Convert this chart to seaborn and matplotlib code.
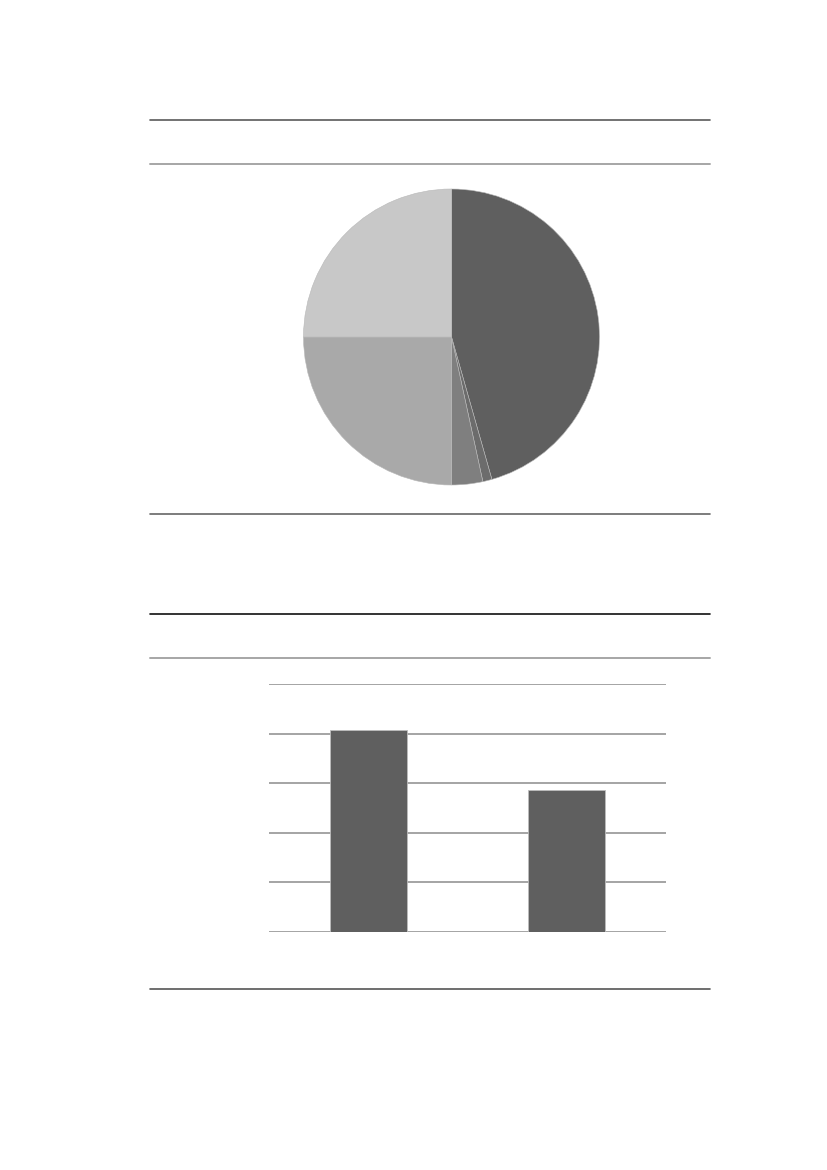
import matplotlib
matplotlib.use("Agg")
import matplotlib.pyplot as plt
import seaborn as sns
import pandas as pd

# pie slices, clockwise from 12 o'clock (shares in %)
pie_labels = ["A", "B", "C", "D", "E"]
pie_values = [45.6, 1.0, 3.4, 25.0, 25.0]
pie_colors = ["#5f5f5f", "#6c6c6c", "#7f7f7f", "#a9a9a9", "#c8c8c8"]

# bar chart values
bar_labels = ["1", "2"]
bar_values = [4.08, 2.86]
bar_ticks = [0, 1, 2, 3, 4, 5]

W, H = 827, 1170
sns.set_style("white")
fig = plt.figure(figsize=(W / 100, H / 100), dpi=100)


def frac(x0, y0, x1, y1):
    # pixel box (top-left origin) -> figure fraction rect
    return [x0 / W, 1 - y1 / H, (x1 - x0) / W, (y1 - y0) / H]


# horizontal rules framing the two charts
rules = [(120, "#5a5a5a", 1.2), (164, "#a6a6a6", 1.4), (514, "#666666", 1.2),
         (614, "#111111", 1.2), (658, "#a6a6a6", 1.4), (989, "#555555", 1.2)]
for y, c, lw in rules:
    fig.add_artist(plt.Line2D([150 / W, 710 / W], [1 - y / H, 1 - y / H],
                              color=c, lw=lw, transform=fig.transFigure))

# pie
ax1 = fig.add_axes(frac(303.5, 189, 599.5, 485))
ax1.pie(pie_values, colors=pie_colors, startangle=90, counterclock=False,
        radius=1, wedgeprops={"edgecolor": "#b8b8b8", "linewidth": 0.4})
ax1.set_xlim(-1, 1)
ax1.set_ylim(-1, 1)
ax1.set_aspect("equal")
ax1.axis("off")

# bars
df = pd.DataFrame({"cat": bar_labels, "val": bar_values})
ax2 = fig.add_axes(frac(269, 684.3, 666, 931.7))
sns.barplot(data=df, x="cat", y="val", color="#5f5f5f", width=0.39,
            saturation=1, edgecolor="#bdbdbd", linewidth=0.6, ax=ax2, zorder=3)
ax2.set_ylim(0, 5)
ax2.set_xlim(-0.5, 1.5)
ax2.set_yticks(bar_ticks)
ax2.yaxis.grid(True, color="#8c8c8c", lw=1.1)
ax2.set_axisbelow(True)
ax2.tick_params(left=False, bottom=False, labelleft=False, labelbottom=False)
ax2.set_xlabel("")
ax2.set_ylabel("")
sns.despine(ax=ax2, left=True, bottom=True)

fig.savefig("out.png", dpi=100)
